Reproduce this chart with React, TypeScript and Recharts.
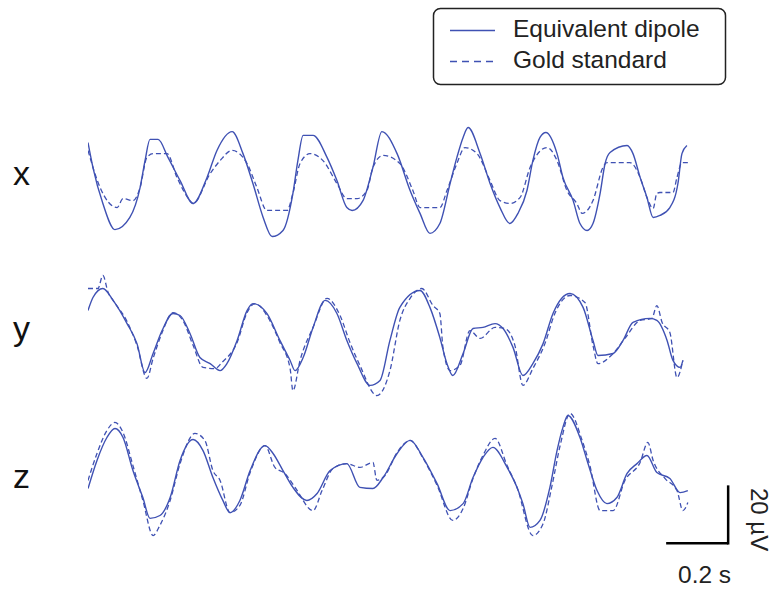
import React from 'react';
import { Line, LineChart, ReferenceLine, XAxis, YAxis } from 'recharts';

// [time (s), amplitude (µV)]
const xDipole: [number, number][] = [
  [0, 14.1], [0.016, 5.5], [0.048, -6.9], [0.087, -15.9], [0.135, -11.7], [0.168, -1.4], [0.184, 7.9],
  [0.2, 15.2], [0.226, 15.2], [0.258, 9.0], [0.297, 1.0], [0.339, -6.9], [0.384, 2.1], [0.416, 11.4],
  [0.465, 17.9], [0.5, 10.3], [0.532, 0], [0.565, -11.7], [0.594, -18.3], [0.629, -16.2], [0.661, -3.4],
  [0.677, 7.9], [0.694, 16.6], [0.726, 16.6], [0.771, 9.0], [0.803, 1.0], [0.835, -8.3], [0.852, -9.3],
  [0.887, -5.9], [0.919, 5.5], [0.948, 17.9], [0.997, 10.3], [1.039, -2.4], [1.071, -10.3], [1.103, -17.2],
  [1.135, -13.8], [1.168, 0], [1.19, 9.0], [1.21, 15.9], [1.226, 19.3], [1.265, 10.3], [1.297, 0],
  [1.329, -8.3], [1.361, -13.8], [1.387, -10.3], [1.416, -2.4], [1.435, 7.9], [1.458, 15.9], [1.477, 17.6],
  [1.513, 10.3], [1.532, 2.1], [1.565, -5.9], [1.587, -13.8], [1.61, -16.2], [1.629, -13.8], [1.652, -3.4],
  [1.668, 6.9], [1.684, 10.7], [1.739, 13.1], [1.758, 10.3], [1.781, 2.1], [1.803, -4.8], [1.823, -11.7],
  [1.845, -11.0], [1.877, -8.3], [1.903, 0], [1.916, 10.3], [1.932, 13.1],
];
const xGold: [number, number][] = [
  [0, 11.4], [0.039, -1.4], [0.094, -8.3], [0.113, -5.2], [0.145, -5.9], [0.168, -1.4], [0.19, 9.0],
  [0.21, 10.3], [0.255, 10.3], [0.287, 2.1], [0.329, -5.9], [0.339, -6.9], [0.394, 3.4], [0.426, 7.9],
  [0.465, 11.4], [0.513, 6.9], [0.545, -1.4], [0.577, -9.3], [0.597, -9.3], [0.642, -9.3], [0.661, -3.4],
  [0.684, 6.9], [0.716, 10.3], [0.758, 7.9], [0.803, 0], [0.835, -5.2], [0.868, -5.2], [0.9, -2.4],
  [0.919, 5.5], [0.952, 9.7], [1.006, 6.9], [1.048, -2.4], [1.071, -8.3], [1.135, -8.3], [1.158, -2.4],
  [1.19, 6.9], [1.216, 12.4], [1.255, 10.3], [1.297, 1.0], [1.329, -5.9], [1.361, -6.9], [1.394, -4.8],
  [1.426, 5.5], [1.481, 12.4], [1.513, 7.9], [1.545, -2.4], [1.577, -6.9], [1.594, -10.3], [1.629, -5.9],
  [1.661, 5.5], [1.674, 7.2], [1.748, 7.2], [1.781, 2.1], [1.803, -4.8], [1.823, -8.6], [1.835, -3.4],
  [1.845, -3.1], [1.887, -3.1], [1.9, 2.1], [1.916, 7.2], [1.935, 7.2],
];

const yDipole: [number, number][] = [
  [0, 8.6], [0.016, 13.1], [0.048, 16.2], [0.081, 12.1], [0.126, 4.1], [0.158, -2.8], [0.184, -12.8],
  [0.21, -6.2], [0.239, 1.7], [0.274, 7.6], [0.297, 6.9], [0.329, 0.7], [0.361, -7.6], [0.394, -9.7],
  [0.426, -12.1], [0.448, -9.7], [0.481, -1.7], [0.513, 8.6], [0.532, 11.0], [0.577, 7.6], [0.619, -1.7],
  [0.652, -8.6], [0.668, -12.1], [0.694, -7.6], [0.726, 2.8], [0.765, 12.1], [0.803, 7.6], [0.835, -1.7],
  [0.868, -9.7], [0.91, -17.2], [0.942, -15.5], [0.974, -1.7], [1.006, 9.7], [1.071, 15.5], [1.103, 9.7],
  [1.135, -0.7], [1.158, -9.7], [1.177, -13.8], [1.21, -6.2], [1.242, 2.4], [1.274, 2.8], [1.313, 4.1],
  [1.339, 2.4], [1.371, -4.1], [1.403, -13.8], [1.435, -9.7], [1.468, -2.8], [1.5, 7.6], [1.555, 14.5],
  [1.597, 9.7], [1.629, -1.7], [1.645, -6.9], [1.694, -6.2], [1.726, -1.7], [1.758, 4.5], [1.813, 5.9],
  [1.835, 5.2], [1.868, -1.7], [1.887, -8.6], [1.91, -11.0], [1.919, -8.6],
];
const yGold: [number, number][] = [
  [0, 16.2], [0.032, 16.2], [0.048, 20.7], [0.065, 14.8], [0.081, 12.1], [0.126, 4.8], [0.158, -3.4],
  [0.19, -14.8], [0.21, -7.9], [0.239, 1.0], [0.274, 7.9], [0.306, 5.2], [0.339, -3.4], [0.371, -11.0],
  [0.41, -11.4], [0.432, -9.3], [0.481, -2.4], [0.513, 7.9], [0.539, 11.0], [0.577, 6.9], [0.619, -2.4],
  [0.652, -11.4], [0.661, -19.0], [0.684, -8.6], [0.726, 2.8], [0.771, 12.8], [0.813, 6.9], [0.845, -2.4],
  [0.877, -10.3], [0.932, -20.7], [0.974, -12.1], [1.006, 5.2], [1.039, 12.8], [1.077, 16.2], [1.113, 10.3],
  [1.135, 7.6], [1.145, -4.1], [1.168, -12.1], [1.2, -10.3], [1.232, 1.7], [1.265, -1.0], [1.313, 2.8],
  [1.345, 2.4], [1.377, -3.4], [1.403, -17.2], [1.435, -11.4], [1.474, -2.8], [1.506, 7.6], [1.555, 13.8],
  [1.603, 11.4], [1.629, -3.4], [1.645, -9.7], [1.694, -6.2], [1.732, -1.0], [1.781, 5.2], [1.819, 5.9],
  [1.835, 10.3], [1.852, 4.5], [1.877, 1.0], [1.9, -14.5], [1.919, -8.6],
];

const zDipole: [number, number][] = [
  [0, -4.5], [0.029, 5.2], [0.061, 13.1], [0.087, 16.2], [0.113, 13.1], [0.145, 1.7], [0.177, -7.6],
  [0.2, -14.8], [0.232, -13.8], [0.265, -7.6], [0.297, 5.2], [0.339, 12.4], [0.371, 8.6], [0.403, -0.7],
  [0.435, -8.6], [0.458, -12.8], [0.49, -8.6], [0.523, 1.7], [0.571, 10.3], [0.597, 7.6], [0.629, 1.7],
  [0.661, -4.1], [0.706, -8.6], [0.739, -6.2], [0.781, 1.7], [0.835, 4.1], [0.877, -4.1], [0.919, -4.5],
  [0.952, -0.7], [0.997, 7.6], [1.039, 12.1], [1.081, 6.2], [1.126, -2.8], [1.168, -12.1], [1.21, -9.7],
  [1.242, -0.7], [1.274, 6.2], [1.306, 9.7], [1.352, 2.8], [1.384, -4.1], [1.403, -9.7], [1.426, -17.9],
  [1.458, -15.5], [1.49, -4.1], [1.513, 8.6], [1.532, 16.6], [1.548, 20.7], [1.587, 13.1], [1.61, 5.2],
  [1.642, -5.2], [1.674, -9.7], [1.706, -7.6], [1.739, 0.7], [1.771, 4.1], [1.803, 6.9], [1.835, 1.0],
  [1.877, -1.0], [1.91, -5.9], [1.935, -5.2],
];
const zGold: [number, number][] = [
  [0, -1.7], [0.029, 7.6], [0.061, 15.5], [0.087, 18.3], [0.113, 14.8], [0.145, 3.4], [0.177, -8.6],
  [0.21, -20.7], [0.232, -17.2], [0.265, -8.6], [0.297, 4.1], [0.345, 14.5], [0.377, 12.1], [0.403, 1.7],
  [0.426, -1.7], [0.458, -12.8], [0.49, -10.3], [0.523, 1.0], [0.571, 10.3], [0.603, 2.8], [0.635, 0.7],
  [0.668, -4.1], [0.726, -12.1], [0.755, -5.2], [0.79, 2.4], [0.835, 4.1], [0.877, 2.8], [0.919, 4.5],
  [0.932, -1.7], [0.958, 0], [0.997, 7.9], [1.039, 12.1], [1.081, 5.9], [1.126, -3.4], [1.177, -15.5],
  [1.21, -11.4], [1.242, -1.0], [1.274, 6.9], [1.313, 12.8], [1.352, 3.4], [1.384, -4.1], [1.435, -20.7],
  [1.468, -16.6], [1.497, -3.4], [1.523, 10.3], [1.555, 21.4], [1.594, 12.1], [1.619, 3.4], [1.652, -12.1],
  [1.694, -12.1], [1.732, -1.7], [1.781, 4.5], [1.806, 11.4], [1.823, 5.2], [1.861, -1.0], [1.9, -5.2],
  [1.919, -12.1], [1.935, -9.3],
];

const channelLabels = ['x', 'y', 'z'];
const legendLabels = ['Equivalent dipole', 'Gold standard'];
const scaleTime = 0.2; // s
const scaleAmp = 20; // µV

const BLUE = '#3f51b3';
const FONT = '"Liberation Sans", Arial, sans-serif';

const toRows = (pts: [number, number][]) => pts.map(([t, v]) => ({ t, v }));

const channels = [
  { label: channelLabels[0], dipole: xDipole, gold: xGold, top: 110.5, baseline: 185 },
  { label: channelLabels[1], dipole: yDipole, gold: yGold, top: 262.5, baseline: 340 },
  { label: channelLabels[2], dipole: zDipole, gold: zGold, top: 402.5, baseline: 488 },
];

const Trace = ({ dipole, gold, scaleBar }: { dipole: [number, number][]; gold: [number, number][]; scaleBar?: boolean }) => {
  const barEnd = 2.065;
  const barY = -23.4;
  return (
    <LineChart width={651} height={145} margin={{ top: 0, right: 0, bottom: 0, left: 0 }}>
      <XAxis dataKey='t' type='number' domain={[0, 2.1]} hide allowDataOverflow />
      <YAxis type='number' domain={[-25, 25]} hide allowDataOverflow />
      <Line data={toRows(gold)} dataKey='v' type='monotone' stroke={BLUE} strokeWidth={1.3}
        strokeDasharray='5 3' dot={false} activeDot={false} isAnimationActive={false} />
      <Line data={toRows(dipole)} dataKey='v' type='monotone' stroke={BLUE} strokeWidth={1.4}
        dot={false} activeDot={false} isAnimationActive={false} />
      {scaleBar && (
        <ReferenceLine
          segment={[{ x: barEnd - scaleTime, y: barY }, { x: barEnd, y: barY }]}
          stroke='#000' strokeWidth={2.5} ifOverflow='visible'
        />
      )}
      {scaleBar && (
        <ReferenceLine
          segment={[{ x: barEnd, y: barY - 0.4 }, { x: barEnd, y: barY + scaleAmp }]}
          stroke='#000' strokeWidth={2.5} ifOverflow='visible'
        />
      )}
    </LineChart>
  );
};

const App = () => {
  return (
    <div style={{ position: 'absolute', left: 0, top: 0, width: 773, height: 589, background: '#fff', fontFamily: FONT }}>
      {channels.map((c, i) => (
        <div key={c.label} style={{ position: 'absolute', left: 88, top: c.top }}>
          <Trace dipole={c.dipole} gold={c.gold} scaleBar={i === 2} />
        </div>
      ))}

      <svg width={773} height={589} style={{ position: 'absolute', left: 0, top: 0, pointerEvents: 'none' }}>
        {channels.map((c) => (
          <text key={c.label} x={13} y={c.baseline} fontSize={34} fill='#111' fontFamily={FONT}>{c.label}</text>
        ))}

        <rect x={433.5} y={8.5} width={292} height={76} rx={7} fill='#fff' stroke='#222' strokeWidth={1.5} />
        <line x1={450} x2={495} y1={30.5} y2={30.5} stroke={BLUE} strokeWidth={1.6} />
        <text x={513} y={37} fontSize={24.5} fill='#222' fontFamily={FONT}>{legendLabels[0]}</text>
        <line x1={450} x2={495} y1={61.5} y2={61.5} stroke={BLUE} strokeWidth={1.6} strokeDasharray='7 5' />
        <text x={513} y={68} fontSize={24.5} fill='#222' fontFamily={FONT}>{legendLabels[1]}</text>

        <text x={678} y={583} fontSize={24.5} fill='#222' fontFamily={FONT}>{`${scaleTime} s`}</text>
        <text transform='translate(751,488) rotate(90)' fontSize={24} fill='#222' fontFamily={FONT}>{`${scaleAmp} µV`}</text>
      </svg>
    </div>
  );
};

export default App;
